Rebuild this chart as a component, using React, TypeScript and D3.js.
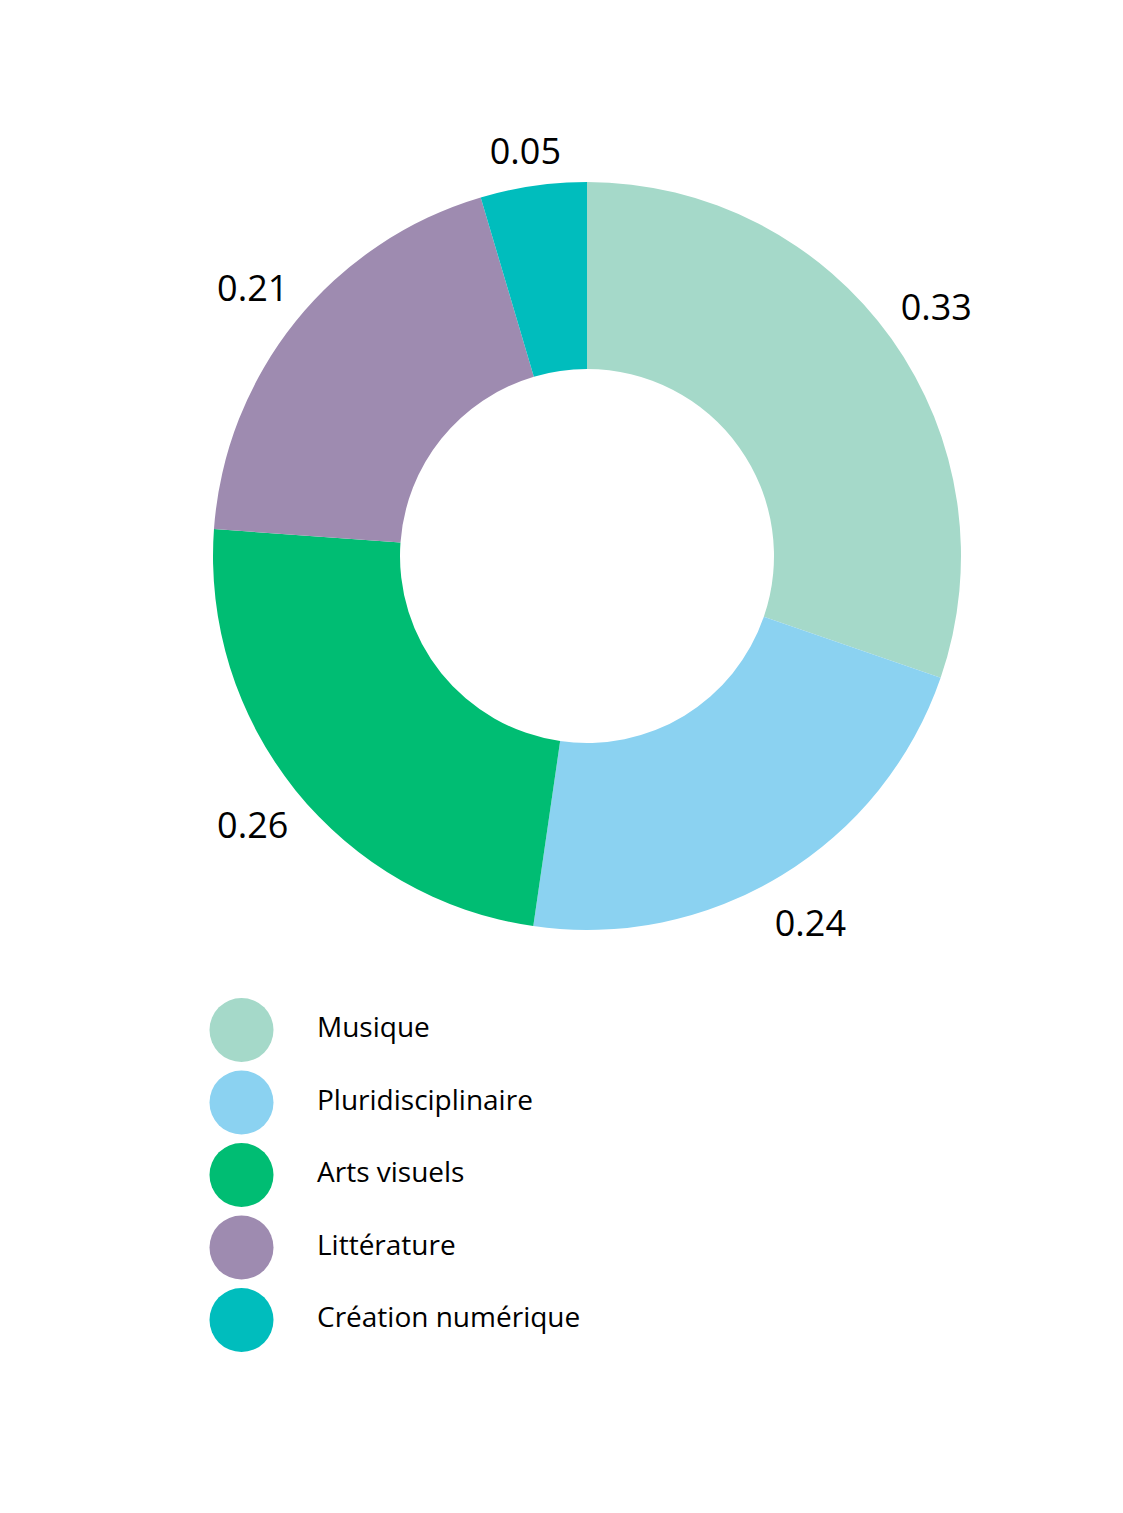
import { useEffect, useRef } from 'react';
import * as d3 from 'd3';

const categories = ['Musique', 'Pluridisciplinaire', 'Arts visuels', 'Littérature', 'Création numérique'];
const values = [0.33, 0.24, 0.26, 0.21, 0.05];
const colors = ['#a5d9c9', '#8bd2f1', '#00bd73', '#9e8bb0', '#00bdbd'];

export default function App() {
  const svgRef = useRef<SVGSVGElement | null>(null);

  useEffect(() => {
    document.body.style.margin = '0';
    if (!svgRef.current) return;
    const svg = d3.select(svgRef.current);
    svg.selectAll('*').remove();

    const width = 1123;
    const height = 1513;
    const cx = 587;
    const cy = 556;
    const outer = 374;
    const inner = 187;
    const labelR = 429;
    const labelTop = 150; // labels are kept inside the plot area

    const data = categories.map((c, i) => ({ name: c, value: values[i], color: colors[i] }));

    svg.attr('width', width).attr('height', height);

    const pie = d3.pie<typeof data[0]>().value(d => d.value).sort(null);
    const arcs = pie(data);
    const arc = d3.arc<d3.PieArcDatum<typeof data[0]>>().innerRadius(inner).outerRadius(outer);
    const labelArc = d3.arc<d3.PieArcDatum<typeof data[0]>>().innerRadius(labelR).outerRadius(labelR);

    const g = svg.append('g').attr('transform', `translate(${cx},${cy})`);

    g.selectAll('path')
      .data(arcs)
      .enter()
      .append('path')
      .attr('d', arc)
      .attr('fill', d => d.data.color);

    g.selectAll('text')
      .data(arcs)
      .enter()
      .append('text')
      .attr('transform', d => {
        const [x, y] = labelArc.centroid(d);
        return `translate(${x},${Math.max(y, labelTop - cy)})`;
      })
      .attr('text-anchor', 'middle')
      .attr('dominant-baseline', 'central')
      .attr('font-family', '"Open Sans", sans-serif')
      .attr('font-size', '36px')
      .attr('fill', '#000')
      .text(d => String(d.data.value));

    // --- LEGEND ---
    const legendY = d3.scalePoint<string>().domain(categories).range([1030, 1320]);
    const legend = svg.append('g').classed('legend', true);
    const items = legend.selectAll('g')
      .data(data)
      .enter()
      .append('g')
      .attr('transform', d => `translate(0,${legendY(d.name)})`);

    items.append('circle')
      .attr('cx', 241.5)
      .attr('cy', 0)
      .attr('r', 32)
      .attr('fill', d => d.color);

    items.append('text')
      .attr('x', 317)
      .attr('y', -4)
      .attr('dominant-baseline', 'central')
      .attr('font-family', '"Open Sans", sans-serif')
      .attr('font-size', '28px')
      .attr('fill', '#000')
      .text(d => d.name);
  }, []);

  return <svg ref={svgRef} style={{ display: 'block' }}></svg>;
}
